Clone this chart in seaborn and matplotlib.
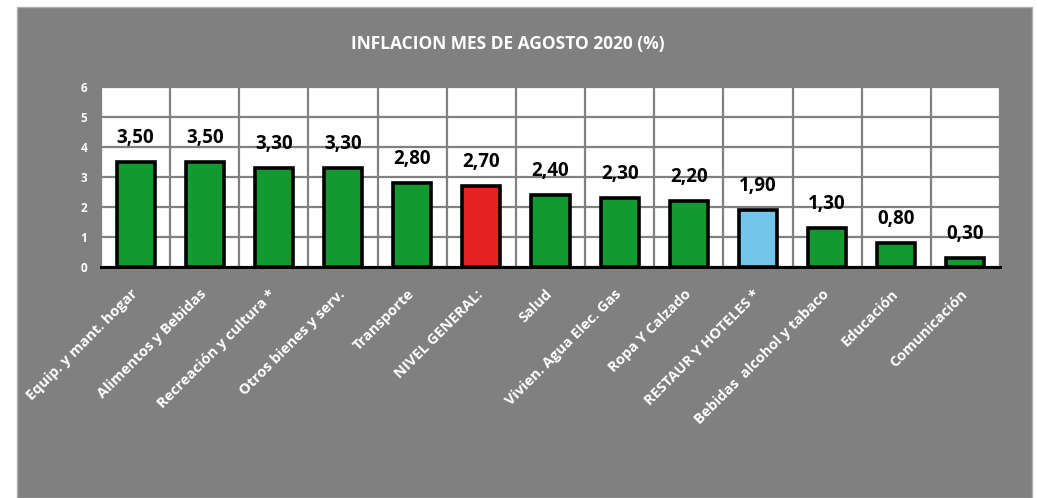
import numpy as np
import pandas as pd
import seaborn as sns
import matplotlib.pyplot as plt
from matplotlib.patches import Rectangle
from matplotlib.ticker import FixedLocator

categorias = ["Equip. y mant. hogar", "Alimentos y Bebidas", "Recreación y cultura *",
              "Otros bienes y serv.", "Transporte", "NIVEL GENERAL:", "Salud",
              "Vivien. Agua Elec. Gas", "Ropa Y Calzado", "RESTAUR Y HOTELES *",
              "Bebidas  alcohol y tabaco", "Educación", "Comunicación"]
valores = [3.5, 3.5, 3.3, 3.3, 2.8, 2.7, 2.4, 2.3, 2.2, 1.9, 1.3, 0.8, 0.3]
titulo = "INFLACION MES DE AGOSTO 2020 (%)"

verde = "#129a30"
colores = [verde] * len(categorias)
colores[5] = "#e52421"
colores[9] = "#75c5ea"

sns.set_style("white")
plt.rcParams["font.family"] = ["Open Sans", "DejaVu Sans"]
plt.rcParams["font.weight"] = "bold"

W, H = 1037, 498
fig = plt.figure(figsize=(W / 100, H / 100), dpi=100, facecolor="white")
fig.patches.append(Rectangle((17 / W, 0), (1032 - 17) / W, (498 - 7) / H,
                             transform=fig.transFigure, facecolor="#808080",
                             edgecolor="#b0b0b0", linewidth=1, zorder=-5))
fig.text(508 / W, 1 - 44 / H, titulo, color="white", fontsize=12.5,
         fontweight="bold", ha="center", va="center")

ax = fig.add_axes([101 / W, 1 - 267 / H, (1000 - 101) / W, (267 - 87) / H])
df = pd.DataFrame({"cat": categorias, "val": valores})
sns.barplot(data=df, x="cat", y="val", hue="cat", palette=colores, legend=False,
            saturation=1, width=0.55, edgecolor="black", linewidth=2.6, ax=ax, zorder=3)

ax.set_facecolor("white")
ax.set_xlim(-0.5, len(categorias) - 0.5)
ax.set_ylim(0, 6)
ax.set_yticks(range(7))
ax.set_xlabel("")
ax.set_ylabel("")

bordes = np.arange(len(categorias) + 1) - 0.5
ax.xaxis.set_minor_locator(FixedLocator(bordes))
ax.grid(True, axis="y", color="#808080", linewidth=1.6, zorder=0)
ax.grid(True, axis="x", which="minor", color="#808080", linewidth=1.6, zorder=0)
ax.set_axisbelow(True)

for s in ["top", "right", "left"]:
    ax.spines[s].set_visible(False)
ax.spines["bottom"].set_color("black")
ax.spines["bottom"].set_linewidth(2.2)
ax.spines["bottom"].set_zorder(5)

ax.tick_params(axis="x", which="major", length=0, pad=18)
ax.tick_params(axis="x", which="minor", length=4, width=1.5, color="black", direction="out")
ax.tick_params(axis="y", length=0, pad=10, labelcolor="white", labelsize=8.5)
ax.set_xticks(range(len(categorias)))
ax.set_xticklabels(categorias, rotation=45, ha="right", va="center",
                   rotation_mode="anchor", color="white", fontsize=10.5, fontweight="bold")
for lab in ax.get_yticklabels():
    lab.set_fontweight("bold")

for i, v in enumerate(valores):
    ax.annotate(f"{v:.2f}".replace(".", ","), (i, v), xytext=(0, 17),
                textcoords="offset points", ha="center", va="center",
                fontsize=13.5, fontweight="bold", color="black", zorder=6)

fig.savefig("out.png", dpi=100, facecolor="white")
